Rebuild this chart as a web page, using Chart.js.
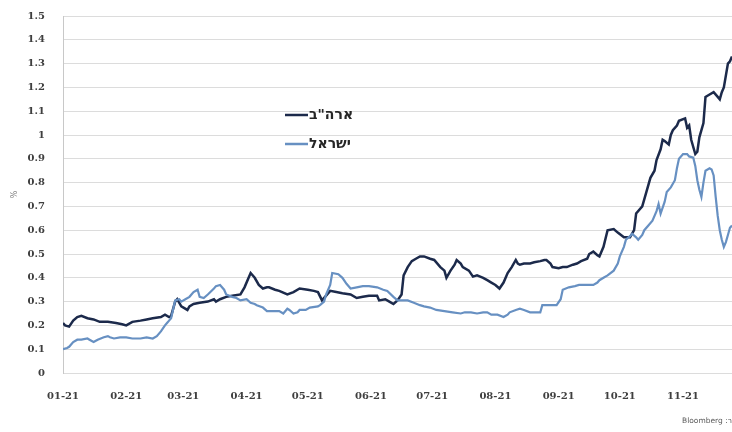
<!DOCTYPE html>
<html lang="he">
<head>
<meta charset="utf-8">
<title>תשואות 2021</title>
<script src="https://cdn.jsdelivr.net/npm/chart.js@4/dist/chart.umd.min.js"></script>
<style>
    html, body { margin: 0; padding: 0; background: #ffffff; overflow: hidden; }
    .wrap { position: relative; width: 732px; height: 432px; }
</style>
</head>
<body>
<div class="wrap"><canvas id="yields-canvas" width="732" height="432"></canvas></div>
<script>
// day of year 2021 (0 = Jan 1) for the month ticks
const monthDays = [0, 31, 59, 90, 120, 151, 181, 212, 243, 273, 304];
const monthLabels = ['01-21', '02-21', '03-21', '04-21', '05-21', '06-21', '07-21', '08-21', '09-21', '10-21', '11-21'];
const lastDay = 328;

const seriesNames = ['ארה"ב', 'ישראל'];
const sourceText = 'מקור: Bloomberg';

// US yield, %
const usDays = [0, 1, 3, 5, 7, 9, 12, 15, 18, 22, 26, 29, 31, 34, 38, 41, 44, 48, 50, 52, 53,
    55, 56, 58, 61, 62, 64, 67, 71, 74, 75, 77, 80, 83, 87, 89, 91, 92, 94, 96, 98, 100, 101,
    104, 106, 110, 113, 116, 120, 123, 125, 127, 129, 131, 134, 137, 141, 144, 147, 150, 154,
    155, 158, 160, 162, 164, 166, 167, 169, 171, 173, 175, 177, 180, 182, 185, 187, 188, 190,
    192, 193, 195, 196, 199, 201, 203, 206, 208, 210, 212, 214, 216, 218, 220, 222, 223, 224,
    226, 229, 231, 234, 236, 237, 239, 240, 243, 245, 247, 250, 252, 254, 257, 258, 260, 262,
    263, 265, 267, 270, 272, 275, 278, 280, 281, 284, 286, 288, 290, 291, 293, 294, 295, 297,
    298, 299, 301, 302, 305, 306, 307, 308, 310, 311, 312, 314, 315, 317, 319, 321, 322, 323,
    324, 326, 327, 328];
const usYield = [0.21, 0.20, 0.195, 0.22, 0.235, 0.24, 0.23, 0.225, 0.215, 0.215, 0.21, 0.205,
    0.20, 0.215, 0.22, 0.225, 0.23, 0.235, 0.245, 0.235, 0.24,
    0.30, 0.31, 0.28, 0.265, 0.28, 0.29, 0.295, 0.30, 0.31, 0.30, 0.31, 0.32, 0.325, 0.33,
    0.36, 0.40, 0.42, 0.40, 0.37, 0.355, 0.36, 0.36,
    0.35, 0.345, 0.33, 0.34, 0.355, 0.35, 0.345, 0.34, 0.305, 0.325, 0.345, 0.34, 0.335,
    0.33, 0.315, 0.32, 0.325, 0.325,
    0.305, 0.31, 0.30, 0.29, 0.305, 0.33, 0.41, 0.445, 0.47, 0.48, 0.49, 0.49, 0.48, 0.475,
    0.445, 0.43, 0.40, 0.43,
    0.455, 0.475, 0.46, 0.445, 0.43, 0.405, 0.41, 0.40, 0.39, 0.38, 0.37, 0.355, 0.38, 0.42,
    0.445, 0.475, 0.46, 0.455,
    0.46, 0.46, 0.465, 0.47, 0.475, 0.475, 0.46, 0.445, 0.44, 0.445, 0.445, 0.455, 0.46,
    0.47, 0.48, 0.50, 0.51, 0.495,
    0.49, 0.53, 0.60, 0.605, 0.59, 0.57, 0.57, 0.60, 0.67, 0.70, 0.76, 0.82, 0.85, 0.895,
    0.94, 0.98, 0.975, 0.96,
    1.00, 1.02, 1.04, 1.06, 1.07, 1.03, 1.04, 0.98, 0.92, 0.93, 0.99, 1.05, 1.16, 1.17,
    1.18, 1.16, 1.15, 1.18,
    1.20, 1.30, 1.31, 1.33];

// Israel yield, %
const ilDays = [0, 2, 3, 5, 7, 9, 12, 13, 15, 17, 20, 22, 23, 25, 28, 31, 34, 38, 41, 44,
    46, 48, 50, 51, 52, 53, 55, 57, 58, 60, 62, 64, 66, 67, 69, 71, 74, 75, 77, 79, 80, 83,
    85, 87, 90, 92, 94, 95, 98, 100, 103, 106, 108, 110, 111, 113, 115, 116, 119, 121, 125,
    126, 128, 129, 131, 132, 135, 137, 139, 141, 144, 147, 150, 154, 157, 159, 162, 164,
    166, 169, 172, 175, 177, 180, 183, 187, 191, 195, 197, 200, 203, 206, 208, 210, 213,
    216, 218, 219, 222, 224, 226, 229, 231, 234, 235, 239, 242, 244, 245, 248, 251, 253,
    257, 260, 262, 263, 265, 267, 270, 272, 273, 275, 276, 278, 279, 281, 282, 284, 285,
    287, 289, 291, 292, 293, 295, 296, 298, 300, 301, 302, 304, 306, 307, 309, 310, 311,
    312, 313, 314, 315, 317, 318, 319, 320, 321, 322, 323, 324, 325, 326, 327, 328];
const ilYield = [0.10, 0.105, 0.11, 0.13, 0.14, 0.14, 0.145, 0.14, 0.13, 0.14, 0.15, 0.155,
    0.15, 0.145, 0.15, 0.15, 0.145, 0.145, 0.15, 0.145,
    0.155, 0.175, 0.20, 0.21, 0.22, 0.23, 0.305, 0.31, 0.30, 0.31, 0.32, 0.34, 0.35, 0.32,
    0.315, 0.33, 0.355, 0.365, 0.37, 0.35, 0.33, 0.32,
    0.315, 0.305, 0.31, 0.295, 0.29, 0.285, 0.275, 0.26, 0.26, 0.26, 0.25, 0.27, 0.265,
    0.25, 0.255, 0.265, 0.265, 0.275, 0.28,
    0.285, 0.30, 0.33, 0.37, 0.42, 0.415, 0.40, 0.375, 0.355, 0.36, 0.365, 0.365, 0.36,
    0.35, 0.345, 0.32, 0.305,
    0.305, 0.305, 0.295, 0.285, 0.28, 0.275, 0.265, 0.26, 0.255, 0.25, 0.255, 0.255, 0.25,
    0.255, 0.255, 0.245, 0.245,
    0.235, 0.245, 0.255, 0.265, 0.27, 0.265, 0.255, 0.255, 0.255, 0.285, 0.285, 0.285,
    0.31, 0.35, 0.36, 0.365, 0.37,
    0.37, 0.37, 0.38, 0.39, 0.40, 0.41, 0.43, 0.46, 0.49, 0.53, 0.56, 0.575, 0.585, 0.57,
    0.56, 0.58, 0.60,
    0.62, 0.64, 0.68, 0.71, 0.67, 0.72, 0.76, 0.78, 0.81, 0.86, 0.90, 0.92, 0.92, 0.91,
    0.905, 0.87, 0.81,
    0.77, 0.74, 0.80, 0.85, 0.86, 0.855, 0.83, 0.74, 0.66, 0.60, 0.56, 0.53, 0.55, 0.58,
    0.61, 0.62];

const US_COLOR = '#1c2a4b';
const IL_COLOR = '#6790c2';
const GRID_COLOR = '#dcdcdc';
const LABEL_COLOR = '#3f3f3f';
const LABEL_FONT = { family: 'DejaVu Serif', size: 10, weight: 'bold' };

const toPoints = (days, vals) => days.map((d, i) => ({ x: d, y: vals[i] }));

// legend floats inside the plot, line sample left of the Hebrew name
const floatingLegend = {
    id: 'floatingLegend',
    afterDatasetsDraw(chart) {
        const { ctx } = chart;
        const rows = [{ y: 115 }, { y: 144 }];
        ctx.save();
        chart.data.datasets.forEach((ds, i) => {
            const y = rows[i].y;
            ctx.strokeStyle = ds.borderColor;
            ctx.lineWidth = 2.5;
            ctx.beginPath();
            ctx.moveTo(285, y);
            ctx.lineTo(308, y);
            ctx.stroke();
            ctx.fillStyle = '#262626';
            ctx.font = 'bold 14px "DejaVu Sans"';
            ctx.textBaseline = 'middle';
            ctx.textAlign = 'left';
            ctx.direction = 'rtl';
            ctx.fillText(ds.label, 309, y);
        });
        ctx.restore();
    }
};

// source line under the x axis, runs off the right edge
const sourceNote = {
    id: 'sourceNote',
    afterDraw(chart) {
        const { ctx } = chart;
        ctx.save();
        ctx.fillStyle = '#595959';
        ctx.font = '7.5px "DejaVu Sans"';
        ctx.textBaseline = 'middle';
        ctx.textAlign = 'left';
        ctx.direction = 'rtl';
        ctx.fillText(sourceText, 682, 421);
        ctx.restore();
    }
};

new Chart(document.getElementById('yields-canvas').getContext('2d'), {
    type: 'line',
    data: {
        datasets: [
            {
                label: seriesNames[0],
                data: toPoints(usDays, usYield),
                borderColor: US_COLOR,
                borderWidth: 2.5,
                pointRadius: 0,
                tension: 0,
                order: 1
            },
            {
                label: seriesNames[1],
                data: toPoints(ilDays, ilYield),
                borderColor: IL_COLOR,
                borderWidth: 2.2,
                pointRadius: 0,
                tension: 0,
                order: 0
            }
        ]
    },
    options: {
        responsive: false,
        animation: false,
        events: [],
        layout: { padding: { left: 10, right: 0, top: 16, bottom: 0 } },
        plugins: {
            legend: { display: false },
            tooltip: { enabled: false },
            title: { display: false }
        },
        scales: {
            x: {
                type: 'linear',
                min: 0,
                max: lastDay,
                afterBuildTicks: (scale) => {
                    scale.ticks = monthDays.map(v => ({ value: v }));
                },
                afterFit: (scale) => { scale.height = 59; },
                grid: { display: false, drawTicks: false },
                border: { display: false },
                ticks: {
                    autoSkip: false,
                    maxRotation: 0,
                    padding: 17,
                    color: LABEL_COLOR,
                    font: LABEL_FONT,
                    callback: (value, index) => monthLabels[index]
                }
            },
            y: {
                min: 0,
                max: 1.5,
                afterFit: (scale) => { scale.width = 53; },
                // invisible tick marks keep the labels clear of the axis line
                grid: { color: GRID_COLOR, lineWidth: 1, drawTicks: true, tickLength: 15, tickColor: 'rgba(0,0,0,0)' },
                border: { display: true, color: '#c8c8c8', width: 1 },
                ticks: {
                    stepSize: 0.1,
                    padding: 3,
                    color: LABEL_COLOR,
                    font: LABEL_FONT,
                    callback: (value) => String(Math.round(value * 10) / 10)
                },
                title: {
                    display: true,
                    text: '%',
                    color: '#7f7f7f',
                    font: { family: 'DejaVu Sans', size: 8 },
                    padding: 0
                }
            }
        }
    },
    plugins: [floatingLegend, sourceNote]
});
</script>
</body>
</html>
